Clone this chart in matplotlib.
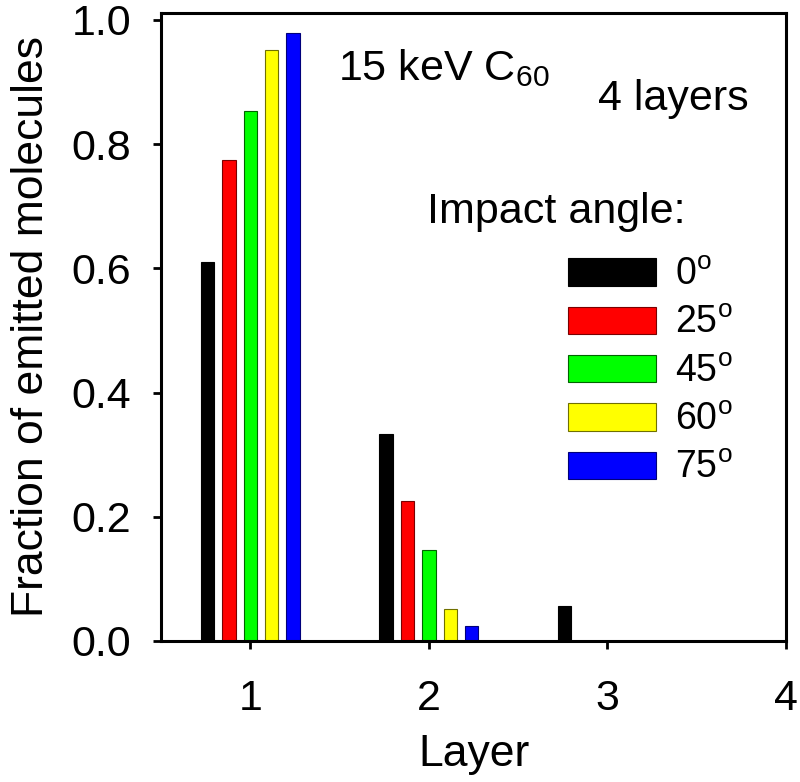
import matplotlib
matplotlib.use("Agg")
import matplotlib.pyplot as plt
import numpy as np

layers = [1, 2, 3, 4]
angle_labels = ["0", "25", "45", "60", "75"]
frac_0 = [0.610, 0.334, 0.057, 0.0]
frac_25 = [0.775, 0.226, 0.0, 0.0]
frac_45 = [0.854, 0.147, 0.0, 0.0]
frac_60 = [0.951, 0.051, 0.0, 0.0]
frac_75 = [0.978, 0.024, 0.0, 0.0]
yticks = [0.0, 0.2, 0.4, 0.6, 0.8, 1.0]

series = [frac_0, frac_25, frac_45, frac_60, frac_75]
colors = ["#000000", "#FF0000", "#00FF00", "#FFFF00", "#0000FF"]
edges = ["#000000", "#7a0000", "#006400", "#707000", "#00007a"]
offsets = [-0.24, -0.12, 0.0, 0.12, 0.24]

plt.rcParams['font.family'] = ['Liberation Sans', 'DejaVu Sans']
plt.rcParams['mathtext.fontset'] = 'custom'
plt.rcParams['mathtext.rm'] = 'Liberation Sans'
plt.rcParams['mathtext.it'] = 'Liberation Sans'

fig = plt.figure(figsize=(8.0, 7.82), dpi=100)
ax = fig.add_axes([161/800, 1-641/782, (786-161)/800, (641-13)/782])

x = np.array(layers, dtype=float)
handles = []
for vals, c, ec, off, lab in zip(series, colors, edges, offsets, angle_labels):
    b = ax.bar(x + off, vals, width=0.075, color=c, edgecolor=ec, linewidth=0.8,
               label=r"$\mathregular{%s^o}$" % lab)
    handles.append(b)

ax.set_xlim(0.5, 4.0)
ax.set_ylim(0, 1.011)
ax.set_xticks(layers)
ax.set_xticklabels([str(l) for l in layers])
ax.set_yticks(yticks)
ax.set_yticklabels(["%.1f" % v for v in yticks])
for s in ax.spines.values():
    s.set_linewidth(2.2)
ax.tick_params(axis='both', direction='out', length=6, width=2, labelsize=31)
ax.tick_params(axis='x', pad=21)
ax.tick_params(axis='y', pad=15.5)
ax.set_xlabel("Layer", fontsize=32, labelpad=11)
ax.set_ylabel("Fraction of emitted molecules", fontsize=32, labelpad=14)

ax.text(338, 782-80, r"15 keV C$\mathregular{_{60}}$", fontsize=31, transform=None)
ax.text(598, 782-110, "4 layers", fontsize=31, transform=None)
ax.text(427, 782-223, "Impact angle:", fontsize=31, transform=None)

leg = ax.legend(handles=handles, loc='upper left',
                bbox_to_anchor=(568/800, 1-257/782), bbox_transform=fig.transFigure,
                frameon=False, fontsize=27, handlelength=2.35, handleheight=0.75,
                labelspacing=0.33, handletextpad=0.5, borderpad=0, borderaxespad=0)

fig.savefig("out.png", dpi=100)
